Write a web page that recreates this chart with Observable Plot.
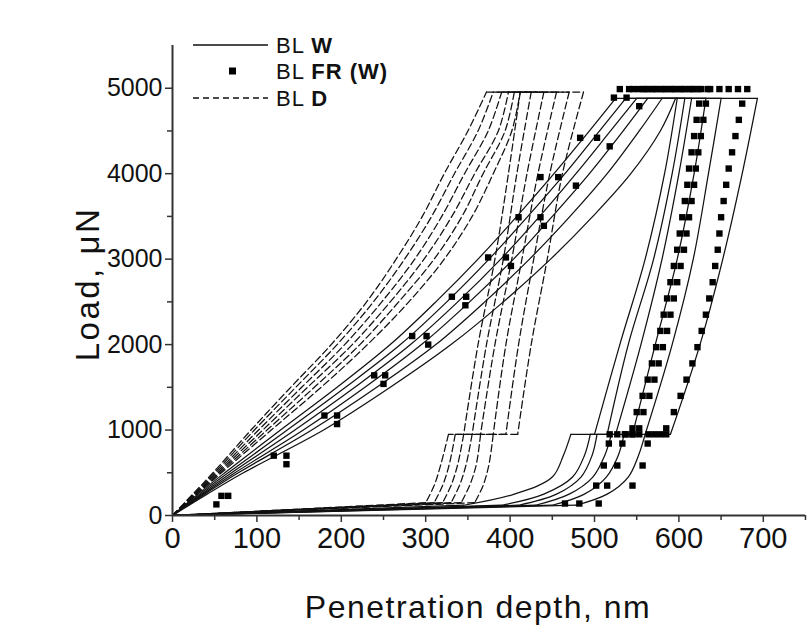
<!DOCTYPE html>
<html><head><meta charset="utf-8">
<script src="https://cdn.jsdelivr.net/npm/d3@7"></script>
<script src="https://cdn.jsdelivr.net/npm/@observablehq/plot@0.6"></script>
<style>
body{margin:0;background:#fff;}
svg{font-family:"Liberation Sans",Arial,sans-serif;}
</style>
</head><body><div id="chart"></div>
<script>
// ---------- axis ticks ----------
const X_TICKS = [0,100,200,300,400,500,600,700];
const X_MINOR = [50,150,250,350,450,550,650,750];
const Y_TICKS = [0,1000,2000,3000,4000,5000];
const Y_MINOR = [500,1500,2500,3500,4500];

// ---------- BL W (solid) ----------
const W_TOP = 4880;
const HOLD_LOW = 950;
const W_LOAD_P = [0,250,500,1000,1500,2000,2500,3000,3500,4000,4500,4880];
const W_LOADING_H = [
  [0,30,62,128,195,258,312,362,408,452,494,525],
  [0,32,66,136,205,270,325,375,421,465,506,537],
  [0,34,70,145,216,282,338,389,435,478,519,550],
  [0,36,74,155,228,295,352,404,450,494,534,563],
  [0,38,78,165,242,312,370,423,471,515,553,580],
  [0,41,84,179,258,330,392,448,498,543,578,596]
];
const W_UNLOAD_P = [4880,4000,3000,2000,950];
const W_UNLOAD_H = [
  [598,583,560,530,500],
  [607,592,570,540,515],
  [615,600,580,555,525],
  [632,618,598,572,545],
  [650,635,617,592,560],
  [693,675,652,625,590]
];
const W_HOLD_LEFT = [472,495,503,520,535,560];
const W_TAIL_P = [700,450,250,120];
const W_TAIL_H = [
  [463,450,405,345],
  [488,474,440,390],
  [497,484,455,410],
  [512,498,470,430],
  [528,514,488,450],
  [552,540,515,478]
];

// ---------- BL D (dashed) ----------
const D_TOP = 4955;
const D_LOAD_P = [0,250,500,1000,1500,2000,2500,3000,3500,4000,4500,4955];
const D_LOADING_H = [
  [0,24,48,93,140,188,230,265,296,322,350,372],
  [0,25,50,97,146,195,238,275,307,334,362,380],
  [0,26,52,102,153,204,248,287,319,346,374,390],
  [0,27,54,107,160,213,258,298,331,358,386,398],
  [0,28,56,112,168,222,268,310,343,368,394,405],
  [0,29,58,117,176,231,280,322,355,380,402,412]
];
const D_UNLOAD_P = [4955,4000,3000,2000,950];
const D_UNLOAD_H = [
  [412,398,382,362,345],
  [425,408,392,372,355],
  [440,420,402,382,365],
  [455,433,414,395,380],
  [470,447,428,410,395],
  [487,462,444,425,409]
];
const D_HOLD_LEFT = [327,335,345,355,365,380];
const D_TAIL_P = [600,350,150];
const D_TAIL_H = [
  [318,310,300],
  [328,320,310],
  [338,330,320],
  [348,340,330],
  [360,352,342],
  [375,368,358]
];

// ---------- BL FR (W) (square markers) ----------
const FR_TOP = 4990;
const FR_LOADING_P = [230,700,1170,1640,2100,2560,3020,3490,3960,4420,4890];
const FR_B_LOADING_P = [130,600,1070,1540,2000,2460,2920,3390,3860,4320,4790];
const FR_LOADING_H = [
  [58,120,180,239,284,331,374,410,436,483,523],
  [66,135,195,252,301,348,395,436,457,503,538],
  [52,135,195,250,303,347,401,440,478,518,553]
];
const FR_TOP_H = [
  [530,541,552,563,574,585,596,607,618],
  [546,557,568,579,590,601,612,623,634],
  [560,571,582,593,604,615,626,637,648,659,670,681]
];
const FR_UNLOAD_P = [4820,4630,4440,4250,4060,3870,3680,3490,3300,3110,2920,2730,2540,2350,2160,1970,1780,1590,1400,1210,1020];
const FR_UNLOAD_H = [
  [624,621,618,615,612,610,607,604,601,598,594,590,586,582,578,573,568,563,557,550,545],
  [632,629,626,623,620,618,615,612,609,606,602,598,594,590,586,581,576,571,565,558,553],
  [675,671,667,663,659,656,653,650,648,646,643,640,636,632,627,622,616,609,602,594,585]
];
const FR_LOW_H = [
  [545,536,527,518],
  [553,545,537],
  [585,578,571,564]
];
const FR_TAIL_P = [842,585,350,140];
const FR_TAIL_H = [
  [517,511,502,465],
  [533,527,515,482],
  [563,557,545,505]
];

// ---------- build rows ----------
function buildCurves(prefix, loadP, loadH, top, unP, unH, holdLeft, tailP, tailH) {
  const rows = [];
  const add = (key, pts) => pts.forEach(([x, y]) => rows.push({key, x, y}));
  loadH.forEach((lh, i) => {
    const id = prefix + i;
    add(id + "load", loadP.map((p, k) => [lh[k], p]));
    add(id + "hold", [[lh[lh.length - 1], top], [unH[i][0], top]]);
    add(id + "unload", unP.map((p, k) => [unH[i][k], p]));
    add(id + "low", [[unH[i][unH[i].length - 1], HOLD_LOW], [holdLeft[i], HOLD_LOW]]);
    const tail = [[holdLeft[i], HOLD_LOW], ...tailP.map((p, k) => [tailH[i][k], p])];
    add(id + "tail", tail);
    add(id + "ret", [tail[tail.length - 1], [0, 0]]);
  });
  return rows;
}
const wRows = buildCurves("W", W_LOAD_P, W_LOADING_H, W_TOP, W_UNLOAD_P, W_UNLOAD_H, W_HOLD_LEFT, W_TAIL_P, W_TAIL_H);
const dRows = buildCurves("D", D_LOAD_P, D_LOADING_H, D_TOP, D_UNLOAD_P, D_UNLOAD_H, D_HOLD_LEFT, D_TAIL_P, D_TAIL_H);

const frRows = [];
FR_LOADING_H.forEach((lh, i) => {
  const lp = i === 2 ? FR_B_LOADING_P : FR_LOADING_P;
  lh.forEach((x, k) => frRows.push({x, y: lp[k]}));
  FR_TOP_H[i].forEach(x => frRows.push({x, y: FR_TOP}));
  FR_UNLOAD_H[i].forEach((x, k) => frRows.push({x, y: FR_UNLOAD_P[k]}));
  FR_LOW_H[i].forEach(x => frRows.push({x, y: HOLD_LOW}));
  FR_TAIL_H[i].forEach((x, k) => frRows.push({x, y: FR_TAIL_P[k]}));
});

const INK = "#111";
const AX = "#333";
const fmt = d => String(d);
const chart = Plot.plot({
  width: 811,
  height: 629,
  marginLeft: 172,
  marginRight: 6,
  marginTop: 45,
  marginBottom: 114,
  style: {background: "#fff", color: INK, fontFamily: "'Liberation Sans', Arial, sans-serif"},
  x: {domain: [0, 750], label: null},
  y: {domain: [0, 5500], label: null},
  marks: [
    Plot.line(dRows, {x: "x", y: "y", z: "key", curve: "catmull-rom", stroke: INK, strokeWidth: 1.25, strokeDasharray: "7,3.5"}),
    Plot.line(wRows, {x: "x", y: "y", z: "key", curve: "catmull-rom", stroke: INK, strokeWidth: 1.25}),
    Plot.dot(frRows, {x: "x", y: "y", symbol: "square", r: 3.6, fill: "#000", stroke: "none"}),
    Plot.axisX({ticks: X_MINOR, tickSize: 5, text: null, label: null, stroke: AX, strokeWidth: 1.5}),
    Plot.axisX({ticks: X_TICKS, tickSize: 7, tickPadding: 5, fontSize: 29, tickFormat: fmt, label: null, stroke: AX, strokeWidth: 1.5}),
    Plot.axisY({ticks: Y_MINOR, tickSize: 5, text: null, label: null, stroke: AX, strokeWidth: 1.5}),
    Plot.axisY({ticks: Y_TICKS, tickSize: 7, tickPadding: 3, fontSize: 25, tickFormat: fmt, label: null, stroke: AX, strokeWidth: 1.5}),
    Plot.ruleY([0], {stroke: AX, strokeWidth: 2}),
    Plot.ruleX([0], {stroke: AX, strokeWidth: 2})
  ]
});
document.getElementById("chart").appendChild(chart);

// ---------- titles and legend ----------
const svg = d3.select(chart);
svg.append("text").attr("x", 478).attr("y", 618).attr("text-anchor", "middle")
  .attr("font-size", 32).attr("letter-spacing", 1.5).attr("fill", INK).text("Penetration depth, nm");
svg.append("text").attr("transform", "translate(99,284) rotate(-90)").attr("text-anchor", "middle")
  .attr("font-size", 33).attr("letter-spacing", 2.5).attr("fill", INK).text("Load, \u03bcN");

const lg = svg.append("g").attr("font-size", 22).attr("fill", INK).attr("text-anchor", "start");
const legendRows = [
  {y: 45, bold: "W", type: "solid"},
  {y: 71, bold: "FR (W)", type: "square"},
  {y: 98, bold: "D", type: "dash"}
];
legendRows.forEach(r => {
  if (r.type === "square") {
    lg.append("rect").attr("x", 229).attr("y", r.y - 3.5).attr("width", 7).attr("height", 7).attr("fill", "#000");
  } else {
    lg.append("line").attr("x1", 193).attr("x2", 268).attr("y1", r.y).attr("y2", r.y)
      .attr("stroke", INK).attr("stroke-width", 1.3).attr("stroke-dasharray", r.type === "dash" ? "6,4" : null);
  }
  const t = lg.append("text").attr("x", 276).attr("y", r.y).attr("dy", "0.36em").attr("letter-spacing", 1);
  t.append("tspan").text("BL ");
  t.append("tspan").attr("font-weight", "bold").text(r.bold);
});
</script>
</body></html>
